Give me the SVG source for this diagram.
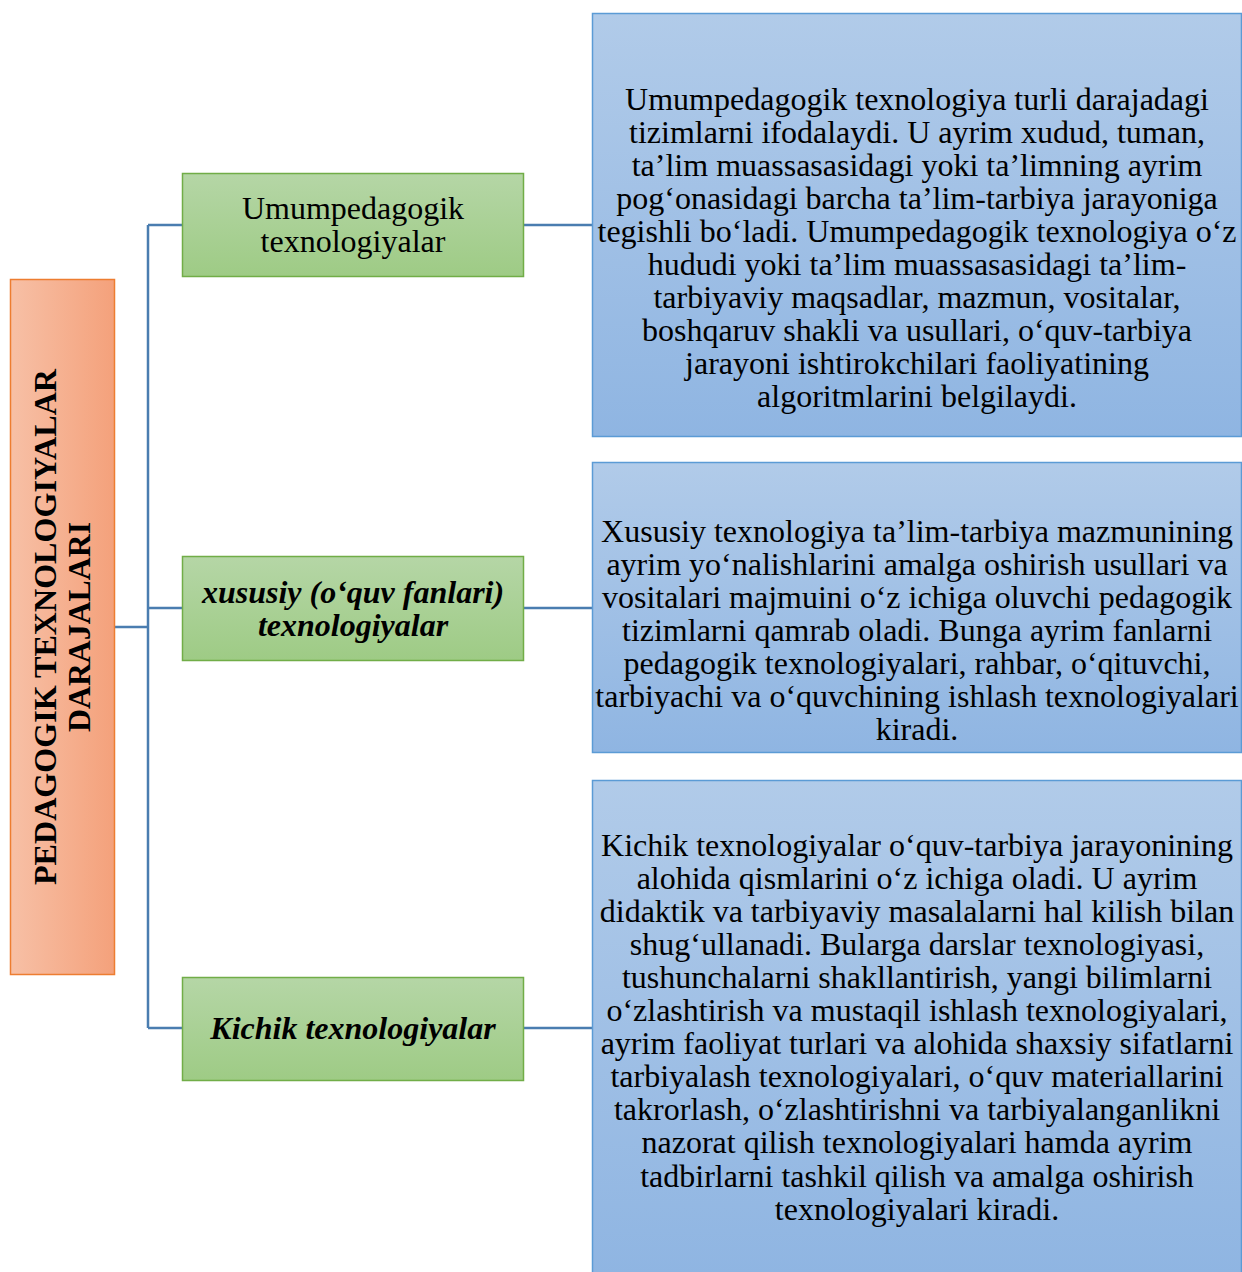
<svg xmlns="http://www.w3.org/2000/svg" width="1242" height="1272" viewBox="0 0 1242 1272">
<style>
.t{font-family:"Liberation Serif","Times New Roman",serif;font-size:32px;fill:#000;text-anchor:middle}
.bi{font-weight:bold;font-style:italic}
.v{font-family:"Liberation Serif","Times New Roman",serif;font-size:32px;font-weight:bold;fill:#000;text-anchor:middle}
.conn{stroke:#4a7db0;stroke-width:2.5;fill:none}
.green{fill:url(#gG);stroke:#71ad47;stroke-width:1.5}
.blue{fill:url(#gB);stroke:#5b9bd5;stroke-width:1.5}
</style>
<defs>
<linearGradient id="gO" x1="0" y1="0" x2="1" y2="0"><stop offset="0" stop-color="#f7c0a6"/><stop offset="1" stop-color="#f4a17b"/></linearGradient>
<linearGradient id="gG" x1="0" y1="0" x2="0" y2="1"><stop offset="0" stop-color="#b5d6a6"/><stop offset="1" stop-color="#9ecb85"/></linearGradient>
<linearGradient id="gB" x1="0" y1="0" x2="0" y2="1"><stop offset="0" stop-color="#b1cbe9"/><stop offset="1" stop-color="#8fb5e2"/></linearGradient>
</defs>
<g id="connectors">
<path class="conn" d="M114 627 H148 M148 225 V1028 M148 225 H182 M148 608 H182 M148 1028 H182 M524 225 H592 M524 608 H592 M524 1028 H592"/>
</g>
<g id="root">
<rect x="10.5" y="279.5" width="104" height="695" fill="url(#gO)" stroke="#ed7d31" stroke-width="1.5"/>
<g transform="translate(0,627) rotate(-90)">
<text class="v" x="0" y="56" textLength="516" lengthAdjust="spacingAndGlyphs">PEDAGOGIK TEXNOLOGIYALAR</text>
<text class="v" x="0" y="90" textLength="210" lengthAdjust="spacingAndGlyphs">DARAJALARI</text>
</g>
</g>
<g id="g1">
<rect class="green" x="182.5" y="173.5" width="341" height="103"/>
<text class="t" x="353" y="219">Umumpedagogik</text>
<text class="t" x="353" y="252">texnologiyalar</text>
</g>
<g id="g2">
<rect class="green" x="182.5" y="556.5" width="341" height="104"/>
<text class="t bi" x="353" y="603">xususiy (o‘quv fanlari)</text>
<text class="t bi" x="353" y="636">texnologiyalar</text>
</g>
<g id="g3">
<rect class="green" x="182.5" y="977.5" width="341" height="103"/>
<text class="t bi" x="353" y="1039">Kichik texnologiyalar</text>
</g>
<g id="b1">
<rect class="blue" x="592.5" y="13.5" width="649" height="423"/>
<text class="t" x="917" y="110">Umumpedagogik texnologiya turli darajadagi</text>
<text class="t" x="917" y="143">tizimlarni ifodalaydi. U ayrim xudud, tuman,</text>
<text class="t" x="917" y="176">ta’lim muassasasidagi yoki ta’limning ayrim</text>
<text class="t" x="917" y="209">pog‘onasidagi barcha ta’lim-tarbiya jarayoniga</text>
<text class="t" x="917" y="242">tegishli bo‘ladi. Umumpedagogik texnologiya o‘z</text>
<text class="t" x="917" y="275">hududi yoki ta’lim muassasasidagi ta’lim-</text>
<text class="t" x="917" y="308">tarbiyaviy maqsadlar, mazmun, vositalar,</text>
<text class="t" x="917" y="341">boshqaruv shakli va usullari, o‘quv-tarbiya</text>
<text class="t" x="917" y="374">jarayoni ishtirokchilari faoliyatining</text>
<text class="t" x="917" y="407">algoritmlarini belgilaydi.</text>
</g>
<g id="b2">
<rect class="blue" x="592.5" y="462.5" width="649" height="290"/>
<text class="t" x="917" y="542">Xususiy texnologiya ta’lim-tarbiya mazmunining</text>
<text class="t" x="917" y="575">ayrim yo‘nalishlarini amalga oshirish usullari va</text>
<text class="t" x="917" y="608">vositalari majmuini o‘z ichiga oluvchi pedagogik</text>
<text class="t" x="917" y="641">tizimlarni qamrab oladi. Bunga ayrim fanlarni</text>
<text class="t" x="917" y="674">pedagogik texnologiyalari, rahbar, o‘qituvchi,</text>
<text class="t" x="917" y="707">tarbiyachi va o‘quvchining ishlash texnologiyalari</text>
<text class="t" x="917" y="740">kiradi.</text>
</g>
<g id="b3">
<rect class="blue" x="592.5" y="780.5" width="649" height="495"/>
<text class="t" x="917" y="856">Kichik texnologiyalar o‘quv-tarbiya jarayonining</text>
<text class="t" x="917" y="889">alohida qismlarini o‘z ichiga oladi. U ayrim</text>
<text class="t" x="917" y="922">didaktik va tarbiyaviy masalalarni hal kilish bilan</text>
<text class="t" x="917" y="955">shug‘ullanadi. Bularga darslar texnologiyasi,</text>
<text class="t" x="917" y="988">tushunchalarni shakllantirish, yangi bilimlarni</text>
<text class="t" x="917" y="1021">o‘zlashtirish va mustaqil ishlash texnologiyalari,</text>
<text class="t" x="917" y="1054">ayrim faoliyat turlari va alohida shaxsiy sifatlarni</text>
<text class="t" x="917" y="1087">tarbiyalash texnologiyalari, o‘quv materiallarini</text>
<text class="t" x="917" y="1120">takrorlash, o‘zlashtirishni va tarbiyalanganlikni</text>
<text class="t" x="917" y="1153">nazorat qilish texnologiyalari hamda ayrim</text>
<text class="t" x="917" y="1187">tadbirlarni tashkil qilish va amalga oshirish</text>
<text class="t" x="917" y="1220">texnologiyalari kiradi.</text>
</g>
</svg>
